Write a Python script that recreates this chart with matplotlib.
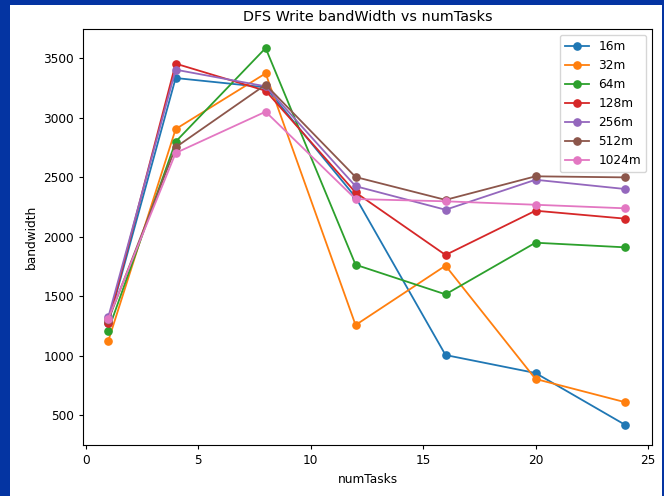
import matplotlib.pyplot as plt
from matplotlib.patches import Rectangle

# write bandwidth measured for each block size
num_tasks = [1, 4, 8, 12, 16, 20, 24]
bw_16m = [1270, 3332, 3254, 2330, 1004, 853, 416]
bw_32m = [1120, 2903, 3371, 1256, 1755, 803, 607]
bw_64m = [1210, 2797, 3584, 1763, 1514, 1948, 1909]
bw_128m = [1273, 3453, 3225, 2370, 1845, 2217, 2150]
bw_256m = [1320, 3402, 3262, 2423, 2225, 2477, 2399]
bw_512m = [1295, 2750, 3276, 2500, 2308, 2506, 2497]
bw_1024m = [1307, 2702, 3049, 2315, 2296, 2267, 2237]

series = [("16m", bw_16m), ("32m", bw_32m), ("64m", bw_64m), ("128m", bw_128m),
          ("256m", bw_256m), ("512m", bw_512m), ("1024m", bw_1024m)]

plt.rcParams['font.size'] = 8.7
plt.rcParams['xtick.major.size'] = 3
plt.rcParams['ytick.major.size'] = 3

fig = plt.figure(figsize=(6.64, 4.96), dpi=100, facecolor='#0434a2')
# white page inside the blue frame
fig.patches.append(Rectangle((10 / 664, 0), 652 / 664, 491 / 496,
                             transform=fig.transFigure, facecolor='white',
                             edgecolor='none', zorder=-1))
ax = fig.add_axes([83 / 664, 1 - 445 / 496, 569 / 664, 416 / 496])

for name, vals in series:
    ax.plot(num_tasks, vals, marker='o', lw=1.3, ms=5.2, label=name)

ax.set_xlim(-0.12, 25.18)
ax.set_ylim(248, 3744)
ax.set_title("DFS Write bandWidth vs numTasks", fontsize=10.4)
ax.set_xlabel("numTasks")
ax.set_ylabel("bandwidth")
ax.legend(loc='upper right')

fig.savefig("out.png", dpi=100, facecolor=fig.get_facecolor())
